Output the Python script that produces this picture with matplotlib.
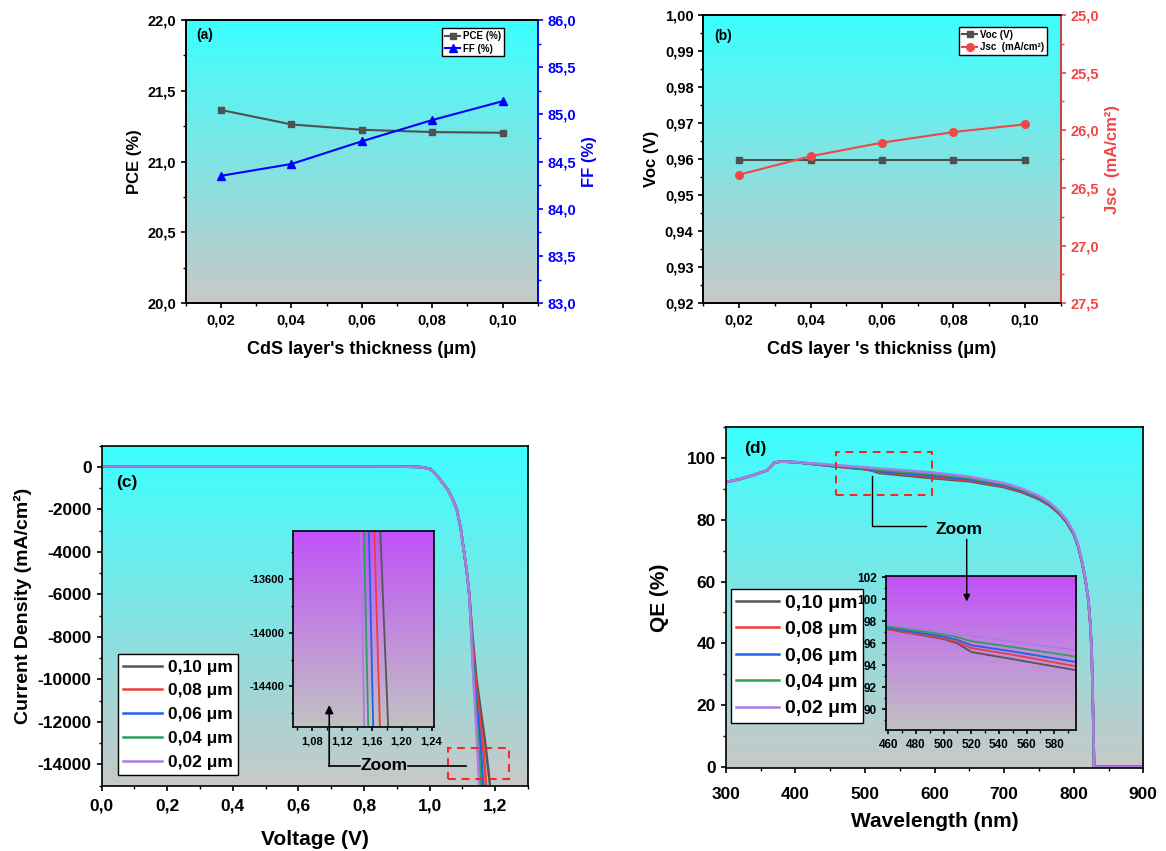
import numpy as np
import matplotlib
matplotlib.use('Agg')
import matplotlib.pyplot as plt
from matplotlib.ticker import FuncFormatter, MultipleLocator
from matplotlib.patches import Rectangle
from matplotlib.colors import to_rgb

plt.rcParams['font.family'] = ['Liberation Sans', 'DejaVu Sans']
plt.rcParams['font.weight'] = 'bold'
plt.rcParams['axes.labelweight'] = 'bold'
plt.rcParams['axes.linewidth'] = 1.2
plt.rcParams['xtick.major.width'] = 1.2
plt.rcParams['ytick.major.width'] = 1.2
plt.rcParams['xtick.minor.width'] = 1.0
plt.rcParams['ytick.minor.width'] = 1.0
plt.rcParams['xtick.major.size'] = 3.5
plt.rcParams['ytick.major.size'] = 3.5
plt.rcParams['xtick.minor.size'] = 2
plt.rcParams['ytick.minor.size'] = 2

# --- (a), (b) : CdS kalinligi
kalinlik = [0.02, 0.04, 0.06, 0.08, 0.10]
pce = [21.365, 21.263, 21.225, 21.209, 21.204]
ff = [84.35, 84.475, 84.715, 84.94, 85.14]
voc = [0.9598, 0.9598, 0.9598, 0.9598, 0.9598]
jsc = [26.385, 26.225, 26.107, 26.015, 25.948]

# --- (c) : J-V egrileri (ortak bas kisim + her kalinlik icin kuyruk)
etiketler = ['0,10 μm', '0,08 μm', '0,06 μm', '0,04 μm', '0,02 μm']
renkler = ['#555555', '#F03C3C', '#1F62E6', '#2E9E5C', '#B07AE6']

jv_v_bas = [0.00, 0.20, 0.40, 0.60, 0.80, 0.90, 0.95, 0.97, 1.00, 1.011, 1.025,
            1.041, 1.056, 1.070, 1.083, 1.095, 1.105, 1.114, 1.121]
jv_j_bas = [26, 26, 25, 25, 22, 15, 5, 0, -80, -220, -450,
            -770, -1080, -1500, -2000, -2900, -4000, -5000, -6000]
jv_j_kuyruk = [-8000, -10000, -13100, -14800, -15100]
jv_v_kuyruk = [
    [1.131, 1.143, 1.1705, 1.1828, 1.1850],   # 0,10
    [1.130, 1.140, 1.1628, 1.1716, 1.1731],   # 0,08
    [1.1285, 1.136, 1.1558, 1.1625, 1.1637],  # 0,06
    [1.128, 1.1345, 1.1491, 1.1559, 1.1571],  # 0,04
    [1.1275, 1.1335, 1.1453, 1.1504, 1.1513], # 0,02
]

# --- (d) : QE egrileri
qe_wl_bas = [300, 320, 340, 360, 370, 380, 400]
qe_bas = [92.2, 93.2, 94.5, 96.1, 98.6, 98.9, 98.7]
qe_wl_kuyruk = [450, 460, 500, 510, 520, 550, 600, 650, 700, 725, 750, 765,
                780, 790, 800, 806, 812, 817, 821, 824, 826, 828, 829.3, 900]
qe_kuyruk = [
    [97.5, 97.26, 96.38, 95.98, 95.2, 94.55, 93.45, 92.5, 90.6, 89.0, 86.7, 84.7,
     81.8, 79.1, 75.3, 71.6, 66.1, 60.2, 54.1, 45.8, 35.9, 16.0, 0.0, 0.0],
    [97.5, 97.26, 96.45, 96.1, 95.56, 94.95, 93.8, 92.8, 90.9, 89.3, 87.0, 84.95,
     82.0, 79.3, 75.5, 71.75, 66.25, 60.3, 54.2, 45.85, 35.9, 16.0, 0.0, 0.0],
    [97.6, 97.38, 96.6, 96.3, 95.82, 95.25, 94.2, 93.15, 91.2, 89.6, 87.3, 85.2,
     82.25, 79.5, 75.7, 71.9, 66.4, 60.4, 54.3, 45.9, 35.95, 16.0, 0.0, 0.0],
    [97.7, 97.5, 96.8, 96.55, 96.19, 95.65, 94.7, 93.55, 91.55, 89.9, 87.55, 85.45,
     82.5, 79.7, 75.85, 72.05, 66.5, 60.5, 54.35, 45.95, 35.98, 16.0, 0.0, 0.0],
    [97.9, 97.74, 97.05, 96.87, 96.67, 96.15, 95.3, 94.0, 91.9, 90.2, 87.8, 85.7,
     82.7, 79.9, 76.0, 72.2, 66.6, 60.6, 54.4, 46.0, 36.0, 16.0, 0.0, 0.0],
]

# zoom pencereleri
zoom_c = (1.0555, 1.2432, -14705, -13242)
zoom_d = (458.3, 595.7, 88.1, 102.15)

gri = '#505050'
mavi = '#0000FF'
kirmizi = '#F04646'


def virgul(fmt):
    return FuncFormatter(lambda v, p: (fmt % v).replace('.', ','))


def gradyan(ax, ust, alt):
    t = np.linspace(0, 1, 256)[:, None]
    img = (1 - t) * np.array(to_rgb(ust)) + t * np.array(to_rgb(alt))
    ax.imshow(img[:, None, :], extent=[0, 1, 0, 1], transform=ax.transAxes,
              aspect='auto', zorder=0, interpolation='bilinear')


def cerceve(leg):
    f = leg.get_frame()
    f.set_edgecolor('black')
    f.set_linewidth(1.0)
    f.set_alpha(1)


fig = plt.figure(figsize=(11.66, 8.51), dpi=100)
W, H = 1166.0, 851.0


def eksen(sol, ust, sag, alt):
    return fig.add_axes([sol / W, 1 - alt / H, (sag - sol) / W, (alt - ust) / H])


# ================= (a)
axa = eksen(185.7, 20, 537.7, 303.3)
gradyan(axa, '#3CFFFF', '#C8C8C8')
la, = axa.plot(kalinlik, pce, '-s', color=gri, ms=5, lw=1.5, label='PCE (%)', zorder=3)
axa2 = axa.twinx()
lb, = axa2.plot(kalinlik, ff, '-^', color=mavi, ms=6, lw=1.5, label='FF (%)', zorder=3)
axa.set_xlim(0.01, 0.11)
axa.set_ylim(20, 22)
axa2.set_ylim(83, 86)
axa.xaxis.set_major_locator(MultipleLocator(0.02))
axa.xaxis.set_minor_locator(MultipleLocator(0.01))
axa.yaxis.set_major_locator(MultipleLocator(0.5))
axa.yaxis.set_minor_locator(MultipleLocator(0.25))
axa2.yaxis.set_major_locator(MultipleLocator(0.5))
axa2.yaxis.set_minor_locator(MultipleLocator(0.25))
axa.xaxis.set_major_formatter(virgul('%.2f'))
axa.yaxis.set_major_formatter(virgul('%.1f'))
axa2.yaxis.set_major_formatter(virgul('%.1f'))
axa.tick_params(labelsize=10.5)
axa2.tick_params(axis='y', which='both', colors=mavi, labelsize=10.5)
axa2.spines['right'].set_color(mavi)
axa.set_xlabel("CdS layer's thickness (μm)", fontsize=13, labelpad=10)
axa.set_ylabel('PCE (%)', fontsize=12)
axa2.set_ylabel('FF (%)', fontsize=12, color=mavi)
axa.text(0.031, 0.948, '(a)', transform=axa.transAxes, fontsize=10, ha='left', va='center')
leg = axa2.legend([la, lb], ['PCE (%)', 'FF (%)'], loc='upper right',
                  bbox_to_anchor=(0.905, 0.971), borderaxespad=0, fontsize=7,
                  fancybox=False, handlelength=1.6, handletextpad=0.3,
                  borderpad=0.3, labelspacing=0.25)
cerceve(leg)

# ================= (b)
axb = eksen(703.3, 15, 1060.7, 303.3)
gradyan(axb, '#3CFFFF', '#C8C8C8')
lc, = axb.plot(kalinlik, voc, '-s', color=gri, ms=5, lw=1.5, zorder=3)
axb2 = axb.twinx()
ld, = axb2.plot(kalinlik, jsc, '-o', color=kirmizi, ms=5.5, lw=1.5, zorder=3)
axb.set_xlim(0.01, 0.11)
axb.set_ylim(0.92, 1.00)
axb2.set_ylim(27.5, 25.0)
axb.xaxis.set_major_locator(MultipleLocator(0.02))
axb.xaxis.set_minor_locator(MultipleLocator(0.01))
axb.yaxis.set_major_locator(MultipleLocator(0.01))
axb.yaxis.set_minor_locator(MultipleLocator(0.005))
axb2.yaxis.set_major_locator(MultipleLocator(0.5))
axb2.yaxis.set_minor_locator(MultipleLocator(0.25))
axb.xaxis.set_major_formatter(virgul('%.2f'))
axb.yaxis.set_major_formatter(virgul('%.2f'))
axb2.yaxis.set_major_formatter(virgul('%.1f'))
axb.tick_params(labelsize=10.5)
axb2.tick_params(axis='y', which='both', colors=kirmizi, labelsize=10.5)
axb2.spines['right'].set_color(kirmizi)
axb.set_xlabel("CdS layer 's thickniss (μm)", fontsize=13, labelpad=10)
axb.set_ylabel('Voc (V)', fontsize=12)
axb2.set_ylabel('Jsc  (mA/cm²)', fontsize=12, color=kirmizi)
axb.text(0.030, 0.928, '(b)', transform=axb.transAxes, fontsize=10, ha='left', va='center')
leg = axb2.legend([lc, ld], ['Voc (V)', 'Jsc  (mA/cm²)'], loc='upper right',
                  bbox_to_anchor=(0.9625, 0.959), borderaxespad=0, fontsize=7,
                  fancybox=False, handlelength=1.6, handletextpad=0.3,
                  borderpad=0.3, labelspacing=0.25)
cerceve(leg)

# ================= (c)
axc = eksen(101.5, 445.7, 528.0, 785.7)
gradyan(axc, '#3CFFFF', '#C8C8C8')
axci = eksen(293.3, 531.0, 434.0, 727.3)
gradyan(axci, '#C050FA', '#C2C2C2')
for i in range(5):
    v = jv_v_bas + jv_v_kuyruk[i]
    j = jv_j_bas + jv_j_kuyruk
    axc.plot(v, j, color=renkler[i], lw=1.8, label=etiketler[i], zorder=2 + i * 0.1)
    axci.plot(v, j, color=renkler[i], lw=1.3, zorder=2 + i * 0.1)
axc.set_xlim(0, 1.3)
axc.set_ylim(-15000, 1000)
axc.xaxis.set_major_locator(MultipleLocator(0.2))
axc.xaxis.set_minor_locator(MultipleLocator(0.1))
axc.yaxis.set_major_locator(MultipleLocator(2000))
axc.yaxis.set_minor_locator(MultipleLocator(1000))
axc.xaxis.set_major_formatter(virgul('%.1f'))
axc.yaxis.set_major_formatter(virgul('%d'))
axc.set_yticks([0, -2000, -4000, -6000, -8000, -10000, -12000, -14000])
axc.tick_params(labelsize=12.5)
axc.tick_params(axis='x', pad=5.5)
axc.set_xlabel('Voltage (V)', fontsize=15, labelpad=12)
axc.set_ylabel('Current Density (mA/cm²)', fontsize=14)
axc.yaxis.set_label_coords(-0.163, 0.53)
axc.text(0.034, 0.893, '(c)', transform=axc.transAxes, fontsize=12.5, ha='left', va='center')
leg = axc.legend(loc='lower left', bbox_to_anchor=(0.039, 0.031), borderaxespad=0,
                 fontsize=12.5, fancybox=False, handlelength=2.2, handletextpad=0.35,
                 borderpad=0.3, labelspacing=0.5)
cerceve(leg)

axci.set_xlim(zoom_c[0], zoom_c[1])
axci.set_ylim(zoom_c[2], zoom_c[3])
axci.xaxis.set_major_locator(MultipleLocator(0.04))
axci.xaxis.set_minor_locator(MultipleLocator(0.02))
axci.set_yticks([-14400, -14000, -13600])
axci.yaxis.set_minor_locator(MultipleLocator(200))
axci.xaxis.set_major_formatter(virgul('%.2f'))
axci.yaxis.set_major_formatter(virgul('%d'))
axci.tick_params(labelsize=8, length=3)
axci.tick_params(which='minor', length=1.8)

# zoom isaretleri (c)
axc.add_patch(Rectangle((zoom_c[0], zoom_c[2]), zoom_c[1] - zoom_c[0], zoom_c[3] - zoom_c[2],
                        fill=False, ec='#FF2020', ls=(0, (4, 3)), lw=1.4, zorder=5))
axc.plot([0.694, 0.787], [-14057, -14057], color='k', lw=1.2, zorder=5)
axc.plot([0.934, 1.110], [-14057, -14057], color='k', lw=1.2, zorder=5)
axc.text(0.860, -14057, 'Zoom', ha='center', va='center', fontsize=12.5, zorder=5)
axci.annotate('', xy=(1.1035, -14539), xycoords='data', xytext=(0.694, -14057),
              textcoords=axc.transData, annotation_clip=False,
              arrowprops=dict(arrowstyle='-|>', color='k', lw=1.2, mutation_scale=12,
                              shrinkA=0, shrinkB=0))

# ================= (d)
axd = eksen(725.7, 427.3, 1143.3, 767.7)
gradyan(axd, '#3CFFFF', '#C8C8C8')
axdi = eksen(886.0, 575.7, 1076.0, 730.0)
gradyan(axdi, '#C050FA', '#C2C2C2')
for i in range(5):
    wl = qe_wl_bas + qe_wl_kuyruk
    qe = qe_bas + qe_kuyruk[i]
    axd.plot(wl, qe, color=renkler[i], lw=1.8, label=etiketler[i], zorder=2 + i * 0.1)
    axdi.plot(wl, qe, color=renkler[i], lw=1.3, zorder=2 + i * 0.1)
axd.set_xlim(300, 900)
axd.set_ylim(-0.3, 110)
axd.xaxis.set_major_locator(MultipleLocator(100))
axd.xaxis.set_minor_locator(MultipleLocator(50))
axd.set_yticks([0, 20, 40, 60, 80, 100])
axd.yaxis.set_minor_locator(MultipleLocator(10))
axd.tick_params(labelsize=12.5)
axd.tick_params(axis='x', pad=10.5)
axd.set_xlabel('Wavelength (nm)', fontsize=15, labelpad=7)
axd.set_ylabel('QE (%)', fontsize=15, labelpad=13)
axd.text(0.044, 0.939, '(d)', transform=axd.transAxes, fontsize=12.5, ha='left', va='center')
leg = axd.legend(loc='lower left', bbox_to_anchor=(0.0127, 0.132), borderaxespad=0,
                 fontsize=14, fancybox=False, handlelength=2.2, handletextpad=0.3,
                 borderpad=0.28, labelspacing=0.45)
cerceve(leg)

axdi.set_xlim(zoom_d[0], zoom_d[1])
axdi.set_ylim(zoom_d[2], zoom_d[3])
axdi.xaxis.set_major_locator(MultipleLocator(20))
axdi.xaxis.set_minor_locator(MultipleLocator(10))
axdi.yaxis.set_major_locator(MultipleLocator(2))
axdi.yaxis.set_minor_locator(MultipleLocator(1))
axdi.tick_params(labelsize=8.5, length=3)
axdi.tick_params(which='minor', length=1.8)

# zoom isaretleri (d)
axd.add_patch(Rectangle((zoom_d[0], zoom_d[2]), zoom_d[1] - zoom_d[0], zoom_d[3] - zoom_d[2],
                        fill=False, ec='#FF2020', ls=(0, (4, 3)), lw=1.4, zorder=5))
axd.plot([510.6, 510.6, 587.8], [94.1, 77.9, 77.9], color='k', lw=1.0, zorder=5)
axd.text(635, 77.0, 'Zoom', ha='center', va='center', fontsize=12.5, zorder=5)
axdi.annotate('', xy=(516.7, 99.8), xycoords='data', xytext=(646.3, 73.7),
              textcoords=axd.transData, annotation_clip=False,
              arrowprops=dict(arrowstyle='-|>', color='k', lw=1.0, mutation_scale=10,
                              shrinkA=0, shrinkB=0))

fig.savefig('out.png', dpi=100)
